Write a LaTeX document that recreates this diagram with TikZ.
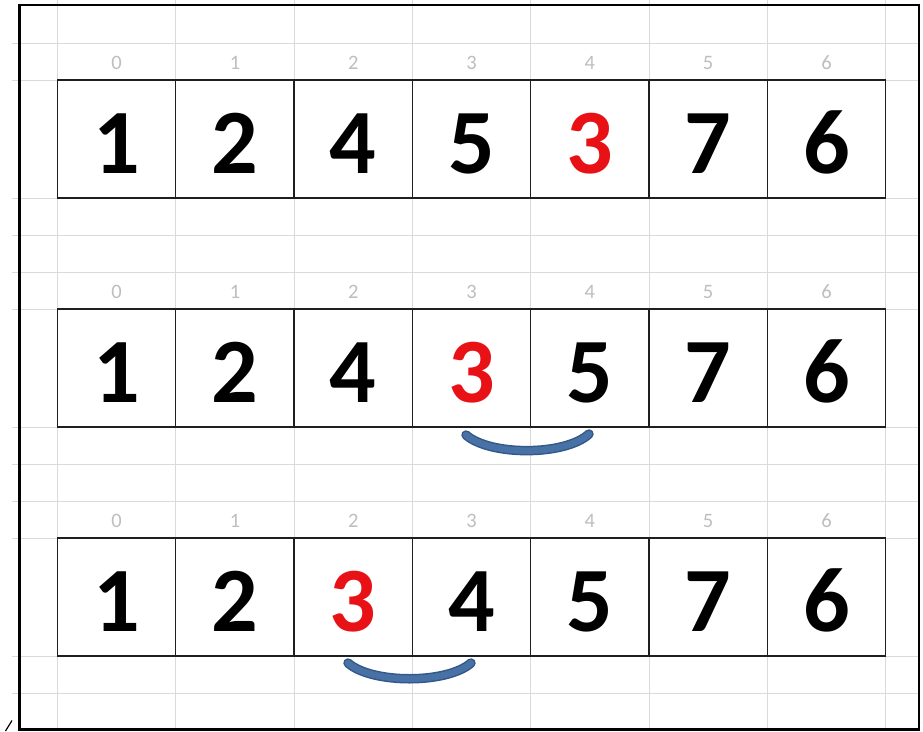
\documentclass[tikz,border=0pt]{standalone}
\usepackage{fontspec}
\setmainfont{Carlito}
\definecolor{gridgray}{RGB}{218,218,218}
\definecolor{idxgray}{RGB}{190,190,190}
\definecolor{cellred}{RGB}{232,18,22}
\definecolor{arcblue}{RGB}{72,114,166}
\definecolor{arcedge}{RGB}{52,88,136}
\tikzset{
  gridline/.style={draw=gridgray, line width=1pt},
  frameline/.style={draw=black, line width=2.5pt},
  cell/.style={draw=black!88, line width=1.3pt, minimum width=118.3pt, minimum height=118pt,
    inner sep=0pt, font=\fontsize{92}{92}\selectfont\bfseries, text height=68pt, text depth=0pt},
  idx/.style={text=idxgray, font=\fontsize{20.5}{20.5}\selectfont, inner sep=0pt},
  smileedge/.style={draw=arcedge, line width=9.5pt, line cap=round},
  smile/.style={draw=arcblue, line width=6.5pt, line cap=round},
}
\begin{document}
\begin{tikzpicture}[x=1pt,y=-1pt]
\useasboundingbox (0,0) rectangle (923,731);
\fill[white] (0,0) rectangle (923,731);
% spreadsheet grid
\foreach \yy in {43,80,198,235,272,309,427,464,501,538,656,693}
  \draw[gridline] (12,\yy) -- (919,\yy);
\foreach \i in {0,...,7}
  \draw[gridline] ({57.5+118.3*\i},0) -- ({57.5+118.3*\i},729);
% frame
\draw[frameline] (19.5,5) rectangle (919,729.5);
\draw[line width=1.2pt] (5.5,731) -- (12,720.5);
% row 1
\foreach \i/\v/\c in {0/1/black,1/2/black,2/4/black,3/5/black,4/3/cellred,5/7/black,6/6/black}{
  \node[idx] (ia\i) at ({116.65+118.3*\i},62.5) {\i};
  \node[cell, text=\c] (ca\i) at ({116.65+118.3*\i},139) {\v};
}
% row 2
\foreach \i/\v/\c in {0/1/black,1/2/black,2/4/black,3/3/cellred,4/5/black,5/7/black,6/6/black}{
  \node[idx] (ib\i) at ({116.65+118.3*\i},291.5) {\i};
  \node[cell, text=\c] (cb\i) at ({116.65+118.3*\i},368) {\v};
}
% row 3
\foreach \i/\v/\c in {0/1/black,1/2/black,2/3/cellred,3/4/black,4/5/black,5/7/black,6/6/black}{
  \node[idx] (ic\i) at ({116.65+118.3*\i},520.5) {\i};
  \node[cell, text=\c] (cc\i) at ({116.65+118.3*\i},597) {\v};
}
% swap marks
\coordinate (s2a) at (466,435);
\coordinate (s2b) at (589,434);
\coordinate (s3a) at (348,663);
\coordinate (s3b) at (471,663);
\draw[smileedge] (s2a) .. controls (490,456) and (565,456) .. (s2b);
\draw[smile] (s2a) .. controls (490,456) and (565,456) .. (s2b);
\draw[smileedge] (s3a) .. controls (372,684) and (447,684) .. (s3b);
\draw[smile] (s3a) .. controls (372,684) and (447,684) .. (s3b);
\end{tikzpicture}
\end{document}
